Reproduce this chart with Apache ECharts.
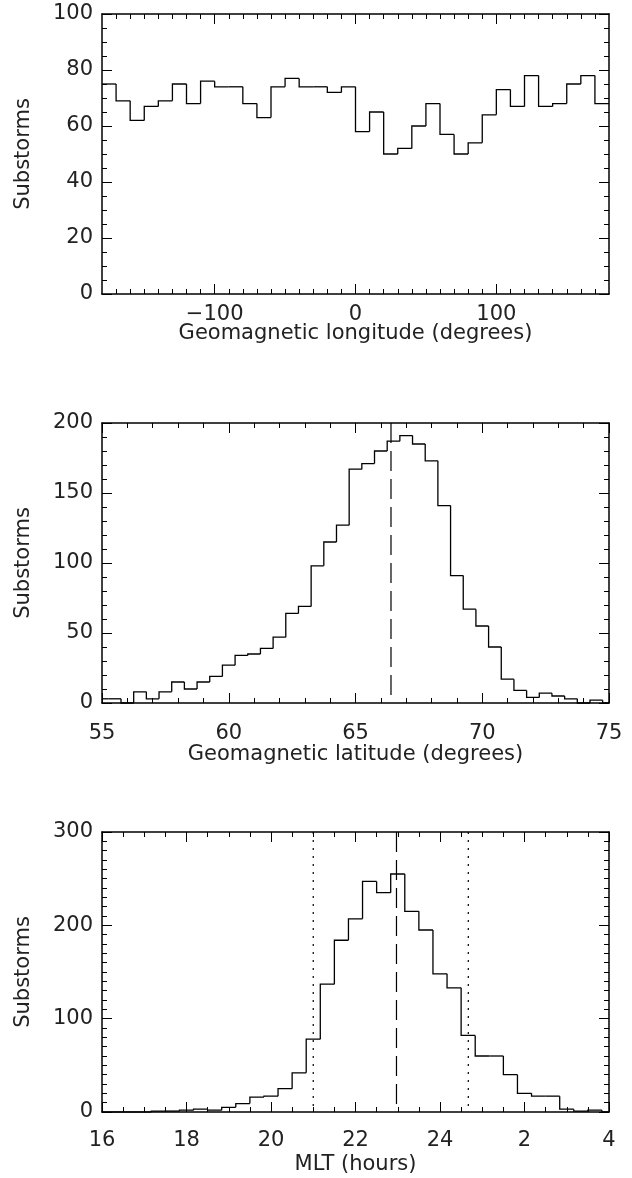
<!DOCTYPE html>
<html><head><meta charset="utf-8">
<script src="https://cdn.jsdelivr.net/npm/echarts@6/dist/echarts.min.js"></script>
<style>html,body{margin:0;padding:0;background:#fff}#c{width:632px;height:1178px}</style>
</head><body><div id="c"></div>
<script>
// ---------- DATA ----------
// Panel 1: geomagnetic longitude histogram (10-degree bins)
const lonBins = [-175,-165,-155,-145,-135,-125,-115,-105,-95,-85,-75,-65,-55,-45,-35,-25,-15,-5,
                 5,15,25,35,45,55,65,75,85,95,105,115,125,135,145,155,165,175];
const lonCounts = [75,69,62,67,69,75,68,76,74,74,68,63,74,77,74,74,72,74,
                   58,65,50,52,60,68,57,50,54,64,73,67,78,67,68,75,78,68];
const lonTicks = [-100, 0, 100];
const lonTickLabels = ['\u2212100', '0', '100'];

// Panel 2: geomagnetic latitude histogram (0.5-degree bins)
const latBins = [55,55.5,56,56.5,57,57.5,58,58.5,59,59.5,60,60.5,61,61.5,62,62.5,63,63.5,64,64.5,
                 65,65.5,66,66.5,67,67.5,68,68.5,69,69.5,70,70.5,71,71.5,72,72.5,73,73.5,74,74.5,75];
const latCounts = [3,3,0,8,3,8,15,10,15,19,27,34,35,39,47,64,69,98,115,127,
                   167,171,180,187,191,185,173,141,91,67,55,40,17,9,4,7,5,3,0,2,0];
const latTickLabels = ['55','60','65','70','75'];
const latMedian = [66.4];

// Panel 3: MLT histogram (20-minute bins), hours past 24 continue as 25, 26...
const mltBins = [16,16+1/3,16+2/3,17,17+1/3,17+2/3,18,18+1/3,18+2/3,19,19+1/3,19+2/3,20,20+1/3,20+2/3,
                 21,21+1/3,21+2/3,22,22+1/3,22+2/3,23,23+1/3,23+2/3,24,24+1/3,24+2/3,
                 25,25+1/3,25+2/3,26,26+1/3,26+2/3,27,27+1/3,27+2/3,28];
const mltCounts = [0,0,0,0,1,1,2,3,2,5,9,16,17,25,42,
                   78,137,184,207,247,235,255,215,195,148,133,82,
                   60,60,40,20,17,17,3,1,2,0];
const mltTickLabels = ['16','18','20','22','24','2','4'];
const mltMedian = [22.97];
const mltBounds = [21.0, 24.67];

// ---------- STYLE HELPERS ----------
const FONT = {fontFamily: 'DejaVu Sans', fontSize: 21, color: '#222'};
const AXLINE = {show: true, onZero: false, lineStyle: {color: '#000', width: 1.5}};
const NOLINE = {show: false, onZero: false};
const TICKSTYLE = {color: '#000', width: 1};

function stepSeries(xi, yi, bins, counts, width, xmin, xmax) {
  return {
    type: 'custom', xAxisIndex: xi, yAxisIndex: yi, silent: true, animation: false,
    data: bins.map((b, i) => [b, counts[i]]),
    renderItem: function (params, api) {
      const i = params.dataIndex;
      const c = api.value(0), v = api.value(1);
      const l = Math.max(c - width / 2, xmin), r = Math.min(c + width / 2, xmax);
      const pts = [];
      if (i > 0) pts.push(api.coord([l, counts[i - 1]]));
      pts.push(api.coord([l, v]));
      pts.push(api.coord([r, v]));
      return {type: 'polyline', shape: {points: pts},
              style: {stroke: '#000', lineWidth: 1.3, fill: null}};
    }
  };
}
function vLineSeries(xi, yi, xs, ymax, dash) {
  return {
    type: 'custom', xAxisIndex: xi, yAxisIndex: yi, silent: true, animation: false,
    data: xs.map(x => [x, 0]),
    renderItem: function (params, api) {
      const p0 = api.coord([api.value(0), ymax]);
      const p1 = api.coord([api.value(0), 0]);
      return {type: 'line', shape: {x1: p0[0], y1: p0[1], x2: p1[0], y2: p1[1]},
              style: {stroke: '#000', lineWidth: 1.2, lineDash: dash}};
    }
  };
}
function yAxes(gi, max, interval, minorSplit) {
  return [
    {gridIndex: gi, type: 'value', position: 'left', min: 0, max: max, interval: interval,
     axisLine: AXLINE, splitLine: {show: false},
     axisTick: {show: true, inside: true, length: 10, lineStyle: TICKSTYLE},
     minorTick: {show: true, splitNumber: minorSplit, length: 5, lineStyle: TICKSTYLE},
     axisLabel: Object.assign({show: true, margin: 9}, FONT),
     name: 'Substorms', nameLocation: 'middle', nameGap: 68, nameMoveOverlap: false, nameTextStyle: FONT},
    {gridIndex: gi, type: 'value', position: 'right', min: 0, max: max, interval: interval,
     axisLine: AXLINE, splitLine: {show: false},
     axisTick: {show: true, inside: true, length: 10, lineStyle: TICKSTYLE},
     minorTick: {show: true, splitNumber: minorSplit, length: 5, lineStyle: TICKSTYLE},
     axisLabel: {show: false}}
  ];
}

const lonMinor = [];
for (let v = -170; v <= 170; v += 10) if (lonTicks.indexOf(v) < 0) lonMinor.push(v);

const option = {
  backgroundColor: '#fff',
  animation: false,
  grid: [
    {left: 102, width: 507, top: 14, height: 280, containLabel: false, outerBoundsMode: 'none'},
    {left: 102, width: 507, top: 423, height: 280, containLabel: false, outerBoundsMode: 'none'},
    {left: 102, width: 507, top: 832, height: 280, containLabel: false, outerBoundsMode: 'none'}
  ],
  xAxis: [
    // panel 1
    {gridIndex: 0, type: 'value', position: 'bottom', min: -180, max: 180,
     axisLine: AXLINE, splitLine: {show: false},
     axisTick: {show: true, inside: true, length: 10, customValues: lonTicks, lineStyle: TICKSTYLE},
     axisLabel: Object.assign({show: true, margin: 10, customValues: lonTicks,
       formatter: v => lonTickLabels[lonTicks.indexOf(Math.round(v))]}, FONT),
     name: 'Geomagnetic longitude (degrees)', nameLocation: 'middle', nameGap: 29,
     nameMoveOverlap: false, nameTextStyle: FONT},
    {gridIndex: 0, type: 'value', position: 'bottom', min: -180, max: 180,
     axisLine: NOLINE, splitLine: {show: false}, axisLabel: {show: false},
     axisTick: {show: true, inside: true, length: 5, customValues: lonMinor, lineStyle: TICKSTYLE}},
    {gridIndex: 0, type: 'value', position: 'top', min: -180, max: 180,
     axisLine: AXLINE, splitLine: {show: false}, axisLabel: {show: false},
     axisTick: {show: true, inside: true, length: 10, customValues: lonTicks, lineStyle: TICKSTYLE}},
    {gridIndex: 0, type: 'value', position: 'top', min: -180, max: 180,
     axisLine: NOLINE, splitLine: {show: false}, axisLabel: {show: false},
     axisTick: {show: true, inside: true, length: 5, customValues: lonMinor, lineStyle: TICKSTYLE}},
    // panel 2
    {gridIndex: 1, type: 'value', position: 'bottom', min: 55, max: 75, interval: 5,
     axisLine: AXLINE, splitLine: {show: false},
     axisTick: {show: true, inside: true, length: 10, lineStyle: TICKSTYLE},
     minorTick: {show: true, splitNumber: 5, length: 5, lineStyle: TICKSTYLE},
     axisLabel: Object.assign({show: true, margin: 20,
       formatter: v => latTickLabels[Math.round((v - 55) / 5)]}, FONT),
     name: 'Geomagnetic latitude (degrees)', nameLocation: 'middle', nameGap: 41,
     nameMoveOverlap: false, nameTextStyle: FONT},
    {gridIndex: 1, type: 'value', position: 'top', min: 55, max: 75, interval: 5,
     axisLine: AXLINE, splitLine: {show: false}, axisLabel: {show: false},
     axisTick: {show: true, inside: true, length: 10, lineStyle: TICKSTYLE},
     minorTick: {show: true, splitNumber: 5, length: 5, lineStyle: TICKSTYLE}},
    // panel 3
    {gridIndex: 2, type: 'value', position: 'bottom', min: 16, max: 28, interval: 2,
     axisLine: AXLINE, splitLine: {show: false},
     axisTick: {show: true, inside: true, length: 10, lineStyle: TICKSTYLE},
     minorTick: {show: true, splitNumber: 4, length: 5, lineStyle: TICKSTYLE},
     axisLabel: Object.assign({show: true, margin: 18,
       formatter: v => mltTickLabels[Math.round((v - 16) / 2)]}, FONT),
     name: 'MLT (hours)', nameLocation: 'middle', nameGap: 42,
     nameMoveOverlap: false, nameTextStyle: FONT},
    {gridIndex: 2, type: 'value', position: 'top', min: 16, max: 28, interval: 2,
     axisLine: AXLINE, splitLine: {show: false}, axisLabel: {show: false},
     axisTick: {show: true, inside: true, length: 10, lineStyle: TICKSTYLE},
     minorTick: {show: true, splitNumber: 4, length: 5, lineStyle: TICKSTYLE}}
  ],
  yAxis: [].concat(yAxes(0, 100, 20, 4), yAxes(1, 200, 50, 5), yAxes(2, 300, 100, 10)),
  series: [
    stepSeries(0, 0, lonBins, lonCounts, 10, -180, 180),
    stepSeries(4, 2, latBins, latCounts, 0.5, 55, 75),
    vLineSeries(4, 2, latMedian, 200, [20, 8]),
    stepSeries(6, 4, mltBins, mltCounts, 1/3, 16, 28),
    vLineSeries(6, 4, mltMedian, 300, [20, 8]),
    vLineSeries(6, 4, mltBounds, 300, [2, 6])
  ]
};
const chart = echarts.init(document.getElementById('c'), null, {renderer: 'canvas'});
chart.setOption(option);
</script>
</body></html>
